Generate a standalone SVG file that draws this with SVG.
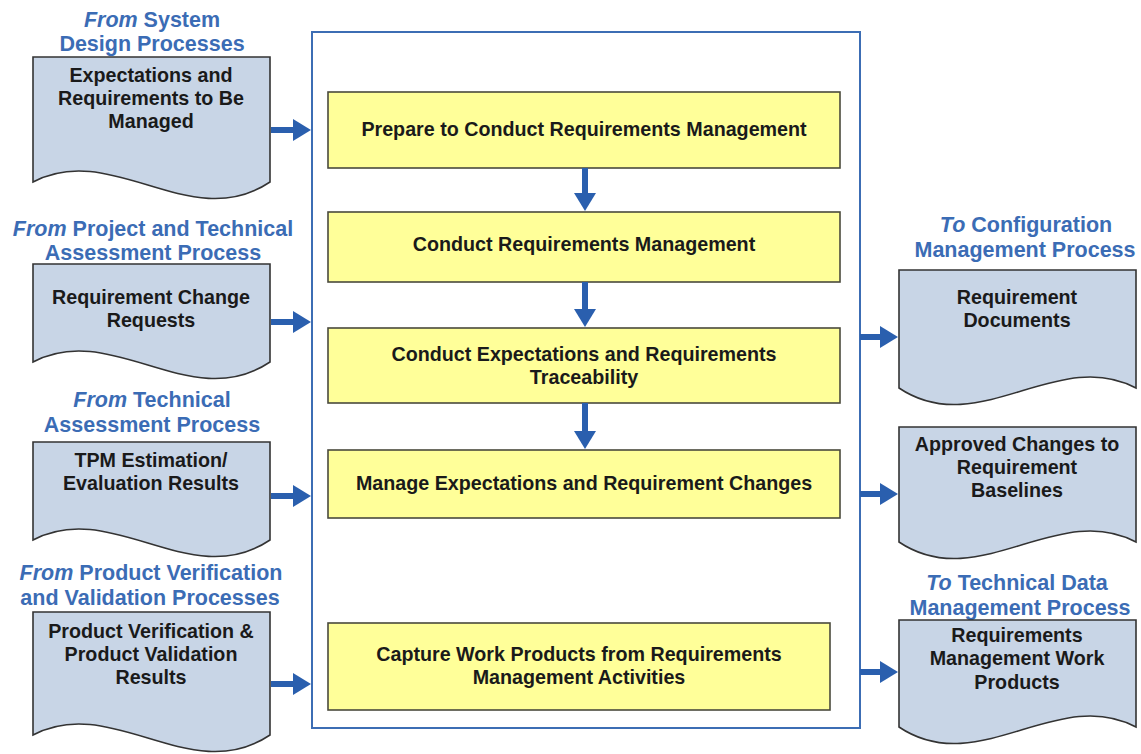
<svg xmlns="http://www.w3.org/2000/svg" width="1141" height="754" viewBox="0 0 1141 754">
<defs>
<style>
.doc{fill:#c8d5e6;stroke:#333;stroke-width:1.6}
.box{fill:#ffff99;stroke:#4a4a3c;stroke-width:1.6}
.t{font-family:"Liberation Sans",Arial,sans-serif;font-weight:bold;font-size:19.7px;fill:#1a1a1a;text-anchor:middle}
.lb{font-family:"Liberation Sans",Arial,sans-serif;font-weight:bold;font-size:21.5px;fill:#3b6cb5;text-anchor:middle}
.it{font-style:italic}
.conn line{stroke:#2a5fae;stroke-width:6}
</style>
<marker id="ah" markerWidth="18" markerHeight="22" refX="1" refY="11" orient="auto" markerUnits="userSpaceOnUse">
<path d="M0,0 L18,11 L0,22 Z" fill="#2a5fae"/>
</marker>
</defs>
<rect width="1141" height="754" fill="#ffffff"/>
<g id="container">
<rect x="312" y="32" width="548" height="696" fill="#ffffff" stroke="#3c6db4" stroke-width="2"/>
</g>
<g id="box1"><rect class="box" x="328" y="92" width="512" height="76"/><text class="t" x="584" y="136">Prepare to Conduct Requirements Management</text></g>
<g id="box2"><rect class="box" x="328" y="212" width="512" height="70"/><text class="t" x="584" y="251">Conduct Requirements Management</text></g>
<g id="box3"><rect class="box" x="328" y="328" width="512" height="75"/><text class="t" x="584" y="361">Conduct Expectations and Requirements</text><text class="t" x="584" y="384">Traceability</text></g>
<g id="box4"><rect class="box" x="328" y="450" width="512" height="68"/><text class="t" x="584" y="490">Manage Expectations and Requirement Changes</text></g>
<g id="box5"><rect class="box" x="328" y="623" width="502" height="87"/><text class="t" x="579" y="661">Capture Work Products from Requirements</text><text class="t" x="579" y="684">Management Activities</text></g>

<g id="in1">
<text class="lb" x="152" y="27"><tspan class="it">From</tspan> System</text>
<text class="lb" x="152" y="51">Design Processes</text>
<path class="doc" d="M33,57 H270 V182 C191,235 112,140 33,182 Z"/>
<text class="t" x="151" y="82">Expectations and</text>
<text class="t" x="151" y="105">Requirements to Be</text>
<text class="t" x="151" y="128">Managed</text>
</g>
<g id="in2">
<text class="lb" x="153" y="236"><tspan class="it">From</tspan> Project and Technical</text>
<text class="lb" x="153" y="260">Assessment Process</text>
<path class="doc" d="M33,264 H270 V362 C191,415 112,320 33,362 Z"/>
<text class="t" x="151" y="304">Requirement Change</text>
<text class="t" x="151" y="327">Requests</text>
</g>
<g id="in3">
<text class="lb" x="152" y="407"><tspan class="it">From</tspan> Technical</text>
<text class="lb" x="152" y="432">Assessment Process</text>
<path class="doc" d="M33,442 H270 V540 C191,593 112,498 33,540 Z"/>
<text class="t" x="151" y="467">TPM Estimation/</text>
<text class="t" x="151" y="490">Evaluation Results</text>
</g>
<g id="in4">
<text class="lb" x="151" y="580"><tspan class="it">From</tspan> Product Verification</text>
<text class="lb" x="150" y="605">and Validation Processes</text>
<path class="doc" d="M33,612 H270 V735 C191,788 112,693 33,735 Z"/>
<text class="t" x="151" y="638">Product Verification &amp;</text>
<text class="t" x="151" y="661">Product Validation</text>
<text class="t" x="151" y="684">Results</text>
</g>

<g id="out1">
<text class="lb" x="1026" y="232"><tspan class="it">To</tspan> Configuration</text>
<text class="lb" x="1025" y="257">Management Process</text>
<path class="doc" d="M899,270 H1136 V388 C1057,346 978,441 899,388 Z"/>
<text class="t" x="1017" y="304">Requirement</text>
<text class="t" x="1017" y="327">Documents</text>
</g>
<g id="out2">
<path class="doc" d="M899,427 H1136 V542 C1057,500 978,595 899,542 Z"/>
<text class="t" x="1017" y="451">Approved Changes to</text>
<text class="t" x="1017" y="474">Requirement</text>
<text class="t" x="1017" y="497">Baselines</text>
</g>
<g id="out3">
<text class="lb" x="1017" y="590"><tspan class="it">To</tspan> Technical Data</text>
<text class="lb" x="1020" y="615">Management Process</text>
<path class="doc" d="M899,620 H1136 V727 C1057,685 978,780 899,727 Z"/>
<text class="t" x="1017" y="642">Requirements</text>
<text class="t" x="1017" y="665">Management Work</text>
<text class="t" x="1017" y="689">Products</text>
</g>

<g id="connectors" class="conn">
<line x1="271" y1="130" x2="294" y2="130" marker-end="url(#ah)"/>
<line x1="271" y1="322" x2="294" y2="322" marker-end="url(#ah)"/>
<line x1="271" y1="496" x2="294" y2="496" marker-end="url(#ah)"/>
<line x1="271" y1="684" x2="294" y2="684" marker-end="url(#ah)"/>
<line x1="860" y1="337" x2="881" y2="337" marker-end="url(#ah)"/>
<line x1="860" y1="494" x2="881" y2="494" marker-end="url(#ah)"/>
<line x1="860" y1="672" x2="881" y2="672" marker-end="url(#ah)"/>
<line x1="585" y1="168" x2="585" y2="194" marker-end="url(#ah)"/>
<line x1="585" y1="282" x2="585" y2="310" marker-end="url(#ah)"/>
<line x1="585" y1="403" x2="585" y2="432" marker-end="url(#ah)"/>
</g>
</svg>
